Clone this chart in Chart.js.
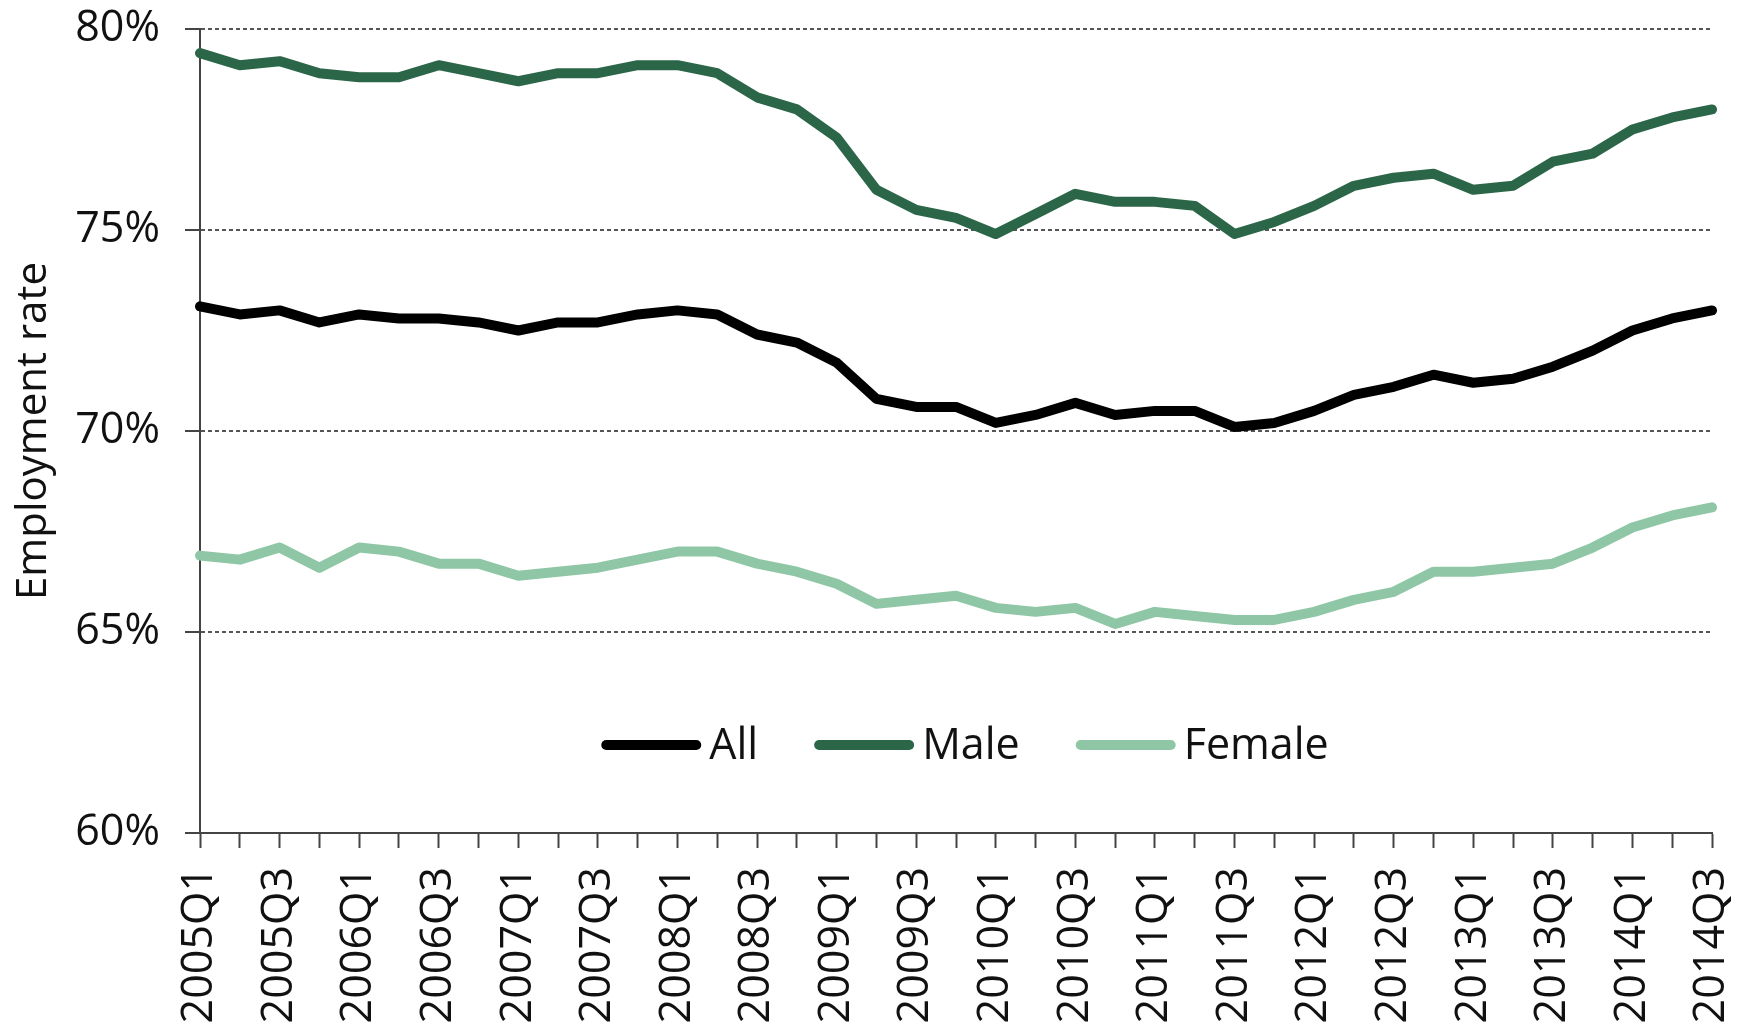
<!DOCTYPE html>
<html>
<head>
<meta charset="utf-8">
<script src="https://cdn.jsdelivr.net/npm/chart.js@4/dist/chart.umd.min.js"></script>
<style>
  html, body { margin: 0; padding: 0; background: #ffffff; }
  #wrap { width: 1753px; height: 1024px; position: relative; }
</style>
</head>
<body>
<div id="wrap"><canvas id="c"></canvas></div>
<script>
const categories = ["2005Q1","2005Q2","2005Q3","2005Q4","2006Q1","2006Q2","2006Q3","2006Q4","2007Q1","2007Q2","2007Q3","2007Q4","2008Q1","2008Q2","2008Q3","2008Q4","2009Q1","2009Q2","2009Q3","2009Q4","2010Q1","2010Q2","2010Q3","2010Q4","2011Q1","2011Q2","2011Q3","2011Q4","2012Q1","2012Q2","2012Q3","2012Q4","2013Q1","2013Q2","2013Q3","2013Q4","2014Q1","2014Q2","2014Q3"];
const allRate = [73.1,72.9,73.0,72.7,72.9,72.8,72.8,72.7,72.5,72.7,72.7,72.9,73.0,72.9,72.4,72.2,71.7,70.8,70.6,70.6,70.2,70.4,70.7,70.4,70.5,70.5,70.1,70.2,70.5,70.9,71.1,71.4,71.2,71.3,71.6,72.0,72.5,72.8,73.0];
const maleRate = [79.4,79.1,79.2,78.9,78.8,78.8,79.1,78.9,78.7,78.9,78.9,79.1,79.1,78.9,78.3,78.0,77.3,76.0,75.5,75.3,74.9,75.4,75.9,75.7,75.7,75.6,74.9,75.2,75.6,76.1,76.3,76.4,76.0,76.1,76.7,76.9,77.5,77.8,78.0];
const femaleRate = [66.9,66.8,67.1,66.6,67.1,67.0,66.7,66.7,66.4,66.5,66.6,66.8,67.0,67.0,66.7,66.5,66.2,65.7,65.8,65.9,65.6,65.5,65.6,65.2,65.5,65.4,65.3,65.3,65.5,65.8,66.0,66.5,66.5,66.6,66.7,67.1,67.6,67.9,68.1];
const seriesNames = ["All","Male","Female"];
const seriesColors = ["#000000","#2b6648","#8fc7a6"];
const yMin = 60, yMax = 80, yStep = 5;
const yTitle = "Employment rate";

const FONT = "'Open Sans', 'Noto Sans', sans-serif";
const FSIZE = 43;

const legendPlugin = {
  id: 'inlineLegend',
  afterDraw(chart) {
    const ctx = chart.ctx;
    const area = chart.chartArea;
    const lineLen = 100, gapText = 8, gapItem = 56;
    ctx.save();
    ctx.font = FSIZE + "px " + FONT;
    const items = chart.data.datasets.map(ds => ({
      label: ds.label, color: ds.borderColor, w: ctx.measureText(ds.label).width
    }));
    let total = 0;
    items.forEach((it, i) => { total += lineLen + gapText + it.w + (i < items.length - 1 ? gapItem : 0); });
    let x = (area.left + area.right) / 2 + 9 - total / 2;
    const y = 745;
    items.forEach(it => {
      ctx.beginPath();
      ctx.strokeStyle = it.color;
      ctx.lineWidth = 10;
      ctx.lineCap = 'round';
      ctx.moveTo(x + 5, y);
      ctx.lineTo(x + lineLen - 5, y);
      ctx.stroke();
      ctx.fillStyle = '#111111';
      ctx.textBaseline = 'middle';
      ctx.textAlign = 'left';
      ctx.fillText(it.label, x + lineLen + gapText, y + 2);
      x += lineLen + gapText + it.w + gapItem;
    });
    ctx.restore();
  }
};

const seriesData = [allRate, maleRate, femaleRate];

function zeroPad(scale) {
  scale.paddingTop = 0; scale.paddingBottom = 0;
  scale.paddingLeft = 0; scale.paddingRight = 0;
}

new Chart(document.getElementById('c'), {
  type: 'line',
  data: {
    labels: categories,
    datasets: seriesNames.map((name, i) => ({
      label: name,
      data: seriesData[i],
      borderColor: seriesColors[i],
      backgroundColor: seriesColors[i],
      borderWidth: 10,
      pointRadius: 0,
      tension: 0,
      fill: false,
      borderJoinStyle: 'round',
      borderCapStyle: 'round'
    }))
  },
  options: {
    responsive: true,
    maintainAspectRatio: false,
    animation: false,
    layout: { padding: { left: 0, right: 41, top: 29, bottom: 0 }, autoPadding: false },
    plugins: {
      legend: { display: false },
      tooltip: { enabled: false }
    },
    scales: {
      x: {
        offset: false,
        grid: {
          drawOnChartArea: false,
          drawTicks: true,
          tickLength: 15,
          tickColor: '#444444',
          tickWidth: 2
        },
        border: { display: true, color: '#444444', width: 2 },
        ticks: {
          autoSkip: false,
          maxRotation: 90,
          minRotation: 90,
          padding: 19,
          color: '#111111',
          font: { family: FONT, size: FSIZE },
          callback: function(value, index) { return index % 2 === 0 ? this.getLabelForValue(value) : ''; }
        },
        afterFit(scale) { scale.height = 191; zeroPad(scale); }
      },
      y: {
        min: yMin,
        max: yMax,
        grid: {
          color: (ctx) => (ctx.tick && ctx.tick.value === yMin) ? 'rgba(0,0,0,0)' : '#555555',
          lineWidth: 2,
          drawTicks: true,
          tickLength: 15,
          tickColor: '#444444',
          tickWidth: 2
        },
        border: { display: true, color: '#444444', width: 2, dash: [4, 3] },
        ticks: {
          stepSize: yStep,
          padding: 25,
          color: '#111111',
          font: { family: FONT, size: FSIZE },
          callback: (v) => v + '%'
        },
        title: {
          display: true,
          text: yTitle,
          color: '#111111',
          font: { family: FONT, size: 42 },
          padding: { top: 9, bottom: 0 }
        },
        afterFit(scale) { scale.width = 200; zeroPad(scale); }
      }
    }
  },
  plugins: [legendPlugin]
});
</script>
</body>
</html>
